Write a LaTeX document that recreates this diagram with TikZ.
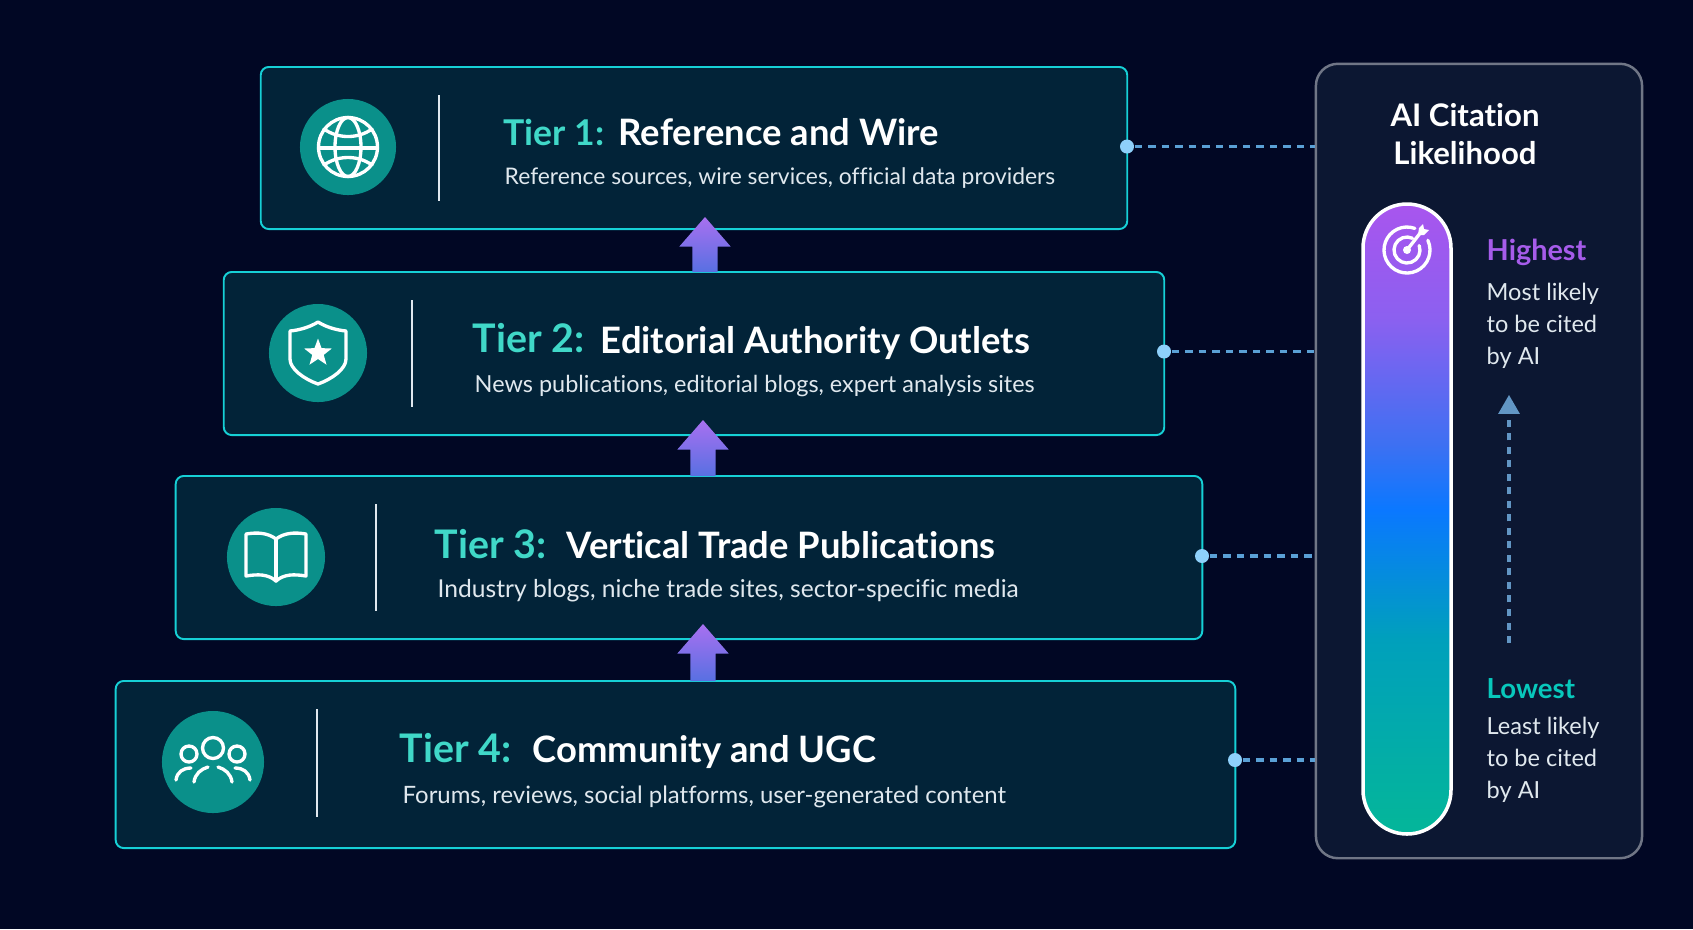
\documentclass[tikz,border=0pt]{standalone}
\usepackage{fontspec}
\setmainfont[Ligatures=NoCommon]{Lato}
\usepackage{tikz}
\usetikzlibrary{
    shapes.geometric,
    shapes.arrows,
    arrows.meta,
    positioning,
    calc
}
\definecolor{pagenavy}{RGB}{1, 7, 36}
\definecolor{tierfill}{RGB}{2, 35, 56}
\definecolor{tierframe}{RGB}{22, 208, 214}
\definecolor{iconteal}{RGB}{10, 144, 138}
\definecolor{tiermint}{RGB}{64, 216, 200}
\definecolor{subtext}{RGB}{224, 232, 238}
\definecolor{panelfill}{RGB}{12, 23, 50}
\definecolor{panelframe}{RGB}{112, 118, 134}
\definecolor{linkblue}{RGB}{90, 160, 214}
\definecolor{sideblue}{RGB}{98, 150, 196}
\definecolor{dotblue}{RGB}{142, 208, 250}
\definecolor{arrowtop}{RGB}{168, 112, 240}
\definecolor{arrowbottom}{RGB}{88, 112, 226}
\definecolor{highviolet}{RGB}{166, 92, 234}
\definecolor{lowteal}{RGB}{8, 200, 188}
\definecolor{thermoa}{RGB}{168, 85, 238}
\definecolor{thermob}{RGB}{140, 96, 240}
\definecolor{thermoc}{RGB}{62, 112, 242}
\definecolor{thermod}{RGB}{10, 120, 255}
\definecolor{thermoe}{RGB}{0, 160, 188}
\definecolor{thermof}{RGB}{4, 181, 155}
\pgfdeclareverticalshading{thermo}{100bp}{
    color(0bp)=(thermof);
    color(26bp)=(thermof);
    color(40.5bp)=(thermoe);
    color(50.7bp)=(thermod);
    color(56bp)=(thermoc);
    color(66bp)=(thermob);
    color(75bp)=(thermoa);
    color(100bp)=(thermoa)
}
\tikzstyle{tierbox} = [
    rectangle,
    rounded corners=0.08cm,
    draw=tierframe,
    fill=tierfill,
    line width=0.55pt,
    inner sep=0pt
]
\tikzstyle{tiernum} = [
    anchor=base west,
    inner sep=0pt,
    text=tiermint,
    font=\fontsize{11.2}{12}\selectfont\bfseries
]
\tikzstyle{tiername} = [
    anchor=base west,
    inner sep=0pt,
    text=white,
    font=\fontsize{10.35}{12}\selectfont\bfseries
]
\tikzstyle{tiersub} = [
    anchor=base west,
    inner sep=0pt,
    text=subtext
]
\tikzstyle{icondisc} = [
    circle,
    fill=iconteal,
    inner sep=0pt
]
\tikzstyle{iconline} = [
    draw=white,
    line width=0.95pt,
    line cap=round,
    line join=round
]
\tikzstyle{splitline} = [
    draw=subtext,
    line width=0.45pt
]
\tikzstyle{linkdot} = [
    circle,
    fill=dotblue,
    inner sep=0pt,
    minimum size=0.14cm
]
\tikzstyle{linkdash} = [
    draw=linkblue,
    line width=1pt,
    dash pattern=on 0.075cm off 0.06cm
]
\tikzstyle{climb} = [
    single arrow,
    anchor=tip,
    shape border rotate=90,
    top color=arrowtop,
    bottom color=arrowbottom,
    inner sep=0.12cm,
    outer sep=0pt,
    minimum width=0.5cm,
    single arrow head extend=0.13cm,
    single arrow tip angle=82
]
\tikzstyle{sidehead} = [
    anchor=base west,
    inner sep=0pt,
    font=\bfseries
]
\tikzstyle{sidenote} = [
    anchor=north west,
    align=left,
    inner sep=0pt,
    text=subtext,
    font=\fontsize{6.7}{9.1}\selectfont
]

\begin{document}
\begin{tikzpicture}[x=0.01cm, y=-0.01cm]
    % Page
    \fill[pagenavy] (0,0) rectangle (1693,929);

    % Right panel
    \node (panel) [rectangle, rounded corners=0.22cm, draw=panelframe, fill=panelfill,
        line width=0.7pt, inner sep=0pt, minimum width=3.26cm, minimum height=7.94cm] at (1479,461) {};
    \node (paneltitle) [align=center, inner sep=0pt, text=white,
        font=\fontsize{8.85}{10.9}\selectfont\bfseries] at (1465,134) {AI Citation\\Likelihood};

    % Tier boxes
    \node (tierone) [tierbox, minimum width=8.66cm, minimum height=1.62cm] at (694,148) {};
    \node (tiertwo) [tierbox, minimum width=9.40cm, minimum height=1.63cm] at (694,353.5) {};
    \node (tierthree) [tierbox, minimum width=10.26cm, minimum height=1.63cm] at (689,557.5) {};
    \node (tierfour) [tierbox, minimum width=11.19cm, minimum height=1.67cm] at (675.5,764.5) {};

    % Block arrows between tiers
    \node (climbone) [climb, minimum height=0.55cm] at (705,217) {};
    \node (climbtwo) [climb, minimum height=0.56cm] at (703,420) {};
    \node (climbthree) [climb, minimum height=0.57cm] at (703,624) {};

    % Tier 1
    \node (discone) [icondisc, minimum size=0.96cm] at (348,147) {};
    \draw[splitline] (439,95) -- (439,201);
    \node (numone) [tiernum, font=\fontsize{10.1}{12}\selectfont\bfseries] at (503,145) {Tier 1:};
    \node (nameone) [tiername] at (618,145) {Reference and Wire};
    \node (subone) [tiersub, font=\fontsize{6.5}{8}\selectfont] at (504,184) {Reference sources, wire services, official data providers};

    % Tier 2
    \node (disctwo) [icondisc, minimum size=0.98cm] at (318,353) {};
    \draw[splitline] (412,300) -- (412,407);
    \node (numtwo) [tiernum] at (472,352) {Tier 2:};
    \node (nametwo) [tiername] at (600,353) {Editorial Authority Outlets};
    \node (subtwo) [tiersub, font=\fontsize{6.67}{8}\selectfont] at (474,392) {News publications, editorial blogs, expert analysis sites};

    % Tier 3
    \node (discthree) [icondisc, minimum size=0.98cm] at (276,557) {};
    \draw[splitline] (376,504) -- (376,611);
    \node (numthree) [tiernum] at (434,558) {Tier 3:};
    \node (namethree) [tiername] at (566,558) {Vertical Trade Publications};
    \node (subthree) [tiersub, font=\fontsize{7}{8}\selectfont] at (437,597) {Industry blogs, niche trade sites, sector-specific media};

    % Tier 4
    \node (discfour) [icondisc, minimum size=1.02cm] at (213,762) {};
    \draw[splitline] (317,709) -- (317,817);
    \node (numfour) [tiernum] at (399,762) {Tier 4:};
    \node (namefour) [tiername] at (532,762) {Community and UGC};
    \node (subfour) [tiersub, font=\fontsize{6.8}{8}\selectfont] at (402,803) {Forums, reviews, social platforms, user-generated content};

    % Globe
    \begin{scope}[shift={(348,147)}, iconline]
        \draw (0,0) circle (29.5);
        \draw (0,0) ellipse (13 and 29.5);
        \draw (-29.5,1) -- (29.5,1);
        \draw (-24,-18) .. controls (-10,-8) and (10,-8) .. (24,-18);
        \draw (-24,18) .. controls (-10,8) and (10,8) .. (24,18);
    \end{scope}

    % Shield
    \begin{scope}[shift={(318,353)}, iconline]
        \draw (0,-31) .. controls (-8,-26) and (-18,-23) .. (-28,-22) -- (-28,6)
            .. controls (-28,16) and (-14,26) .. (0,31)
            .. controls (14,26) and (28,16) .. (28,6) -- (28,-22)
            .. controls (18,-23) and (8,-26) .. (0,-31) -- cycle;
    \end{scope}
    \node (shieldstar) [star, star points=5, star point ratio=2.4, fill=white, inner sep=0pt,
        minimum size=0.29cm] at (318,353) {};

    % Book
    \begin{scope}[shift={(276,557)}, iconline]
        \draw (0,-18) .. controls (-8,-24) and (-18,-25) .. (-30,-23) -- (-30,19)
            .. controls (-18,17) and (-8,17) .. (0,24)
            .. controls (8,17) and (18,17) .. (30,19) -- (30,-23)
            .. controls (18,-25) and (8,-24) .. (0,-18) -- cycle;
        \draw (0,-18) -- (0,24);
    \end{scope}

    % People
    \begin{scope}[shift={(213,762)}, iconline]
        \draw (0,-14) circle (10.5);
        \draw (-24,-8) circle (8);
        \draw (24,-8) circle (8);
        \draw (-19,20) .. controls (-18,12) and (-12,7) .. (-5,5);
        \draw (19,20) .. controls (18,12) and (12,7) .. (5,5);
        \draw (-37,18) .. controls (-36,10) and (-30,6) .. (-22,6);
        \draw (37,18) .. controls (36,10) and (30,6) .. (22,6);
    \end{scope}

    % Connector dots and dashes
    \node (dotone) [linkdot] at (1127,146.5) {};
    \node (dottwo) [linkdot] at (1164,351.5) {};
    \node (dotthree) [linkdot] at (1202,556) {};
    \node (dotfour) [linkdot] at (1235,760) {};
    \draw[linkdash] (dotone) -- (dotone -| panel.west);
    \draw[linkdash] (dottwo) -- (dottwo -| panel.west);
    \draw[linkdash] (dotthree) -- (dotthree -| panel.west);
    \draw[linkdash] (dotfour) -- (dotfour -| panel.west);

    % Likelihood bar
    \path[draw=white, line width=1pt, shading=thermo, rounded corners=0.44cm]
        (1363,204) rectangle (1451,834);

    % Target
    \begin{scope}[shift={(1407,250)}, iconline]
        \draw (-25:23) arc (-25:290:23);
        \draw (-20:13) arc (-20:295:13);
        \fill[white] (0,0) circle (4);
        \draw (0,0) -- (14,-18);
        \fill[white] (11,-15) -- (12,-22) -- (16,-26) -- (17,-21) -- (22,-20) -- (17,-15) -- cycle;
    \end{scope}

    % Side labels
    \node (highlabel) [sidehead, text=highviolet, font=\fontsize{8.2}{10}\selectfont\bfseries] at (1486,260) {Highest};
    \node (highnote) [sidenote] at (1486,282) {Most likely\\to be cited\\by AI};
    \node (lowlabel) [sidehead, text=lowteal, font=\fontsize{7.85}{10}\selectfont\bfseries] at (1486,698) {Lowest};
    \node (lownote) [sidenote] at (1486,716) {Least likely\\to be cited\\by AI};

    % Likelihood direction
    \coordinate (sidefoot) at (1509,643);
    \node (sidetip) [regular polygon, regular polygon sides=3, fill=sideblue,
        inner sep=0pt, minimum size=0.25cm] at (1509,407.5) {};
    \draw[draw=sideblue, line width=1pt, dash pattern=on 0.07cm off 0.065cm] (sidefoot) -- (sidetip.south);
\end{tikzpicture}
\end{document}
